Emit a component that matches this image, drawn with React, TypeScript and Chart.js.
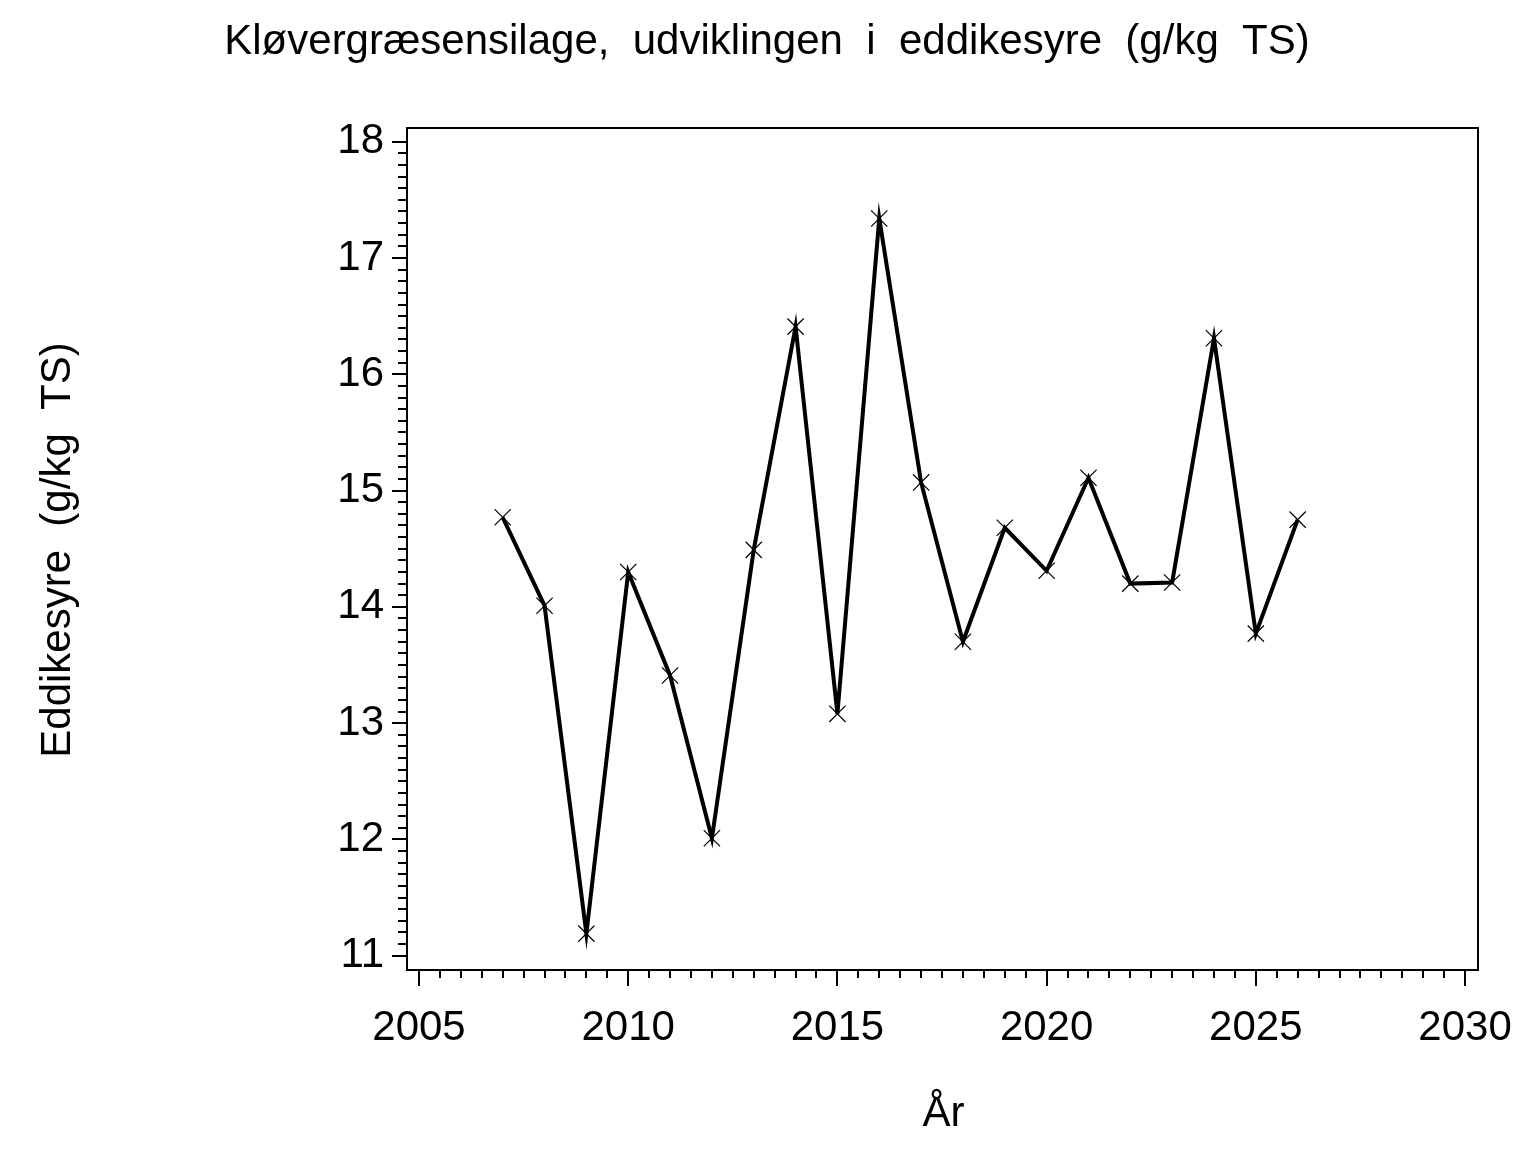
import { useEffect, useRef } from 'react';
import { Chart, registerables } from 'chart.js';

Chart.register(...registerables);

const years = [2007, 2008, 2009, 2010, 2011, 2012, 2013, 2014, 2015, 2016, 2017, 2018, 2019, 2020, 2021, 2022, 2023, 2024, 2025, 2026];
const eddikesyre = [14.77, 14.01, 11.19, 14.3, 13.41, 12.01, 14.49, 16.41, 13.08, 17.34, 15.07, 13.7, 14.68, 14.31, 15.11, 14.2, 14.21, 16.31, 13.77, 14.75];
const yTicks = [11, 12, 13, 14, 15, 16, 17, 18];
const xTicks = [2005, 2010, 2015, 2020, 2025, 2030];
const yMinorStep = 0.1;
const xMinorStep = 0.5;
const titleText = 'Kløvergræsensilage,  udviklingen  i  eddikesyre  (g/kg  TS)';
const yTitleText = 'Eddikesyre  (g/kg  TS)';
const xTitleText = 'År';

const FONT = "'Liberation Sans', Arial, Helvetica, sans-serif";

const decorPlugin = {
  id: 'decor',
  afterDraw(chart: any) {
    const { ctx, chartArea: a, scales } = chart;
    const x = scales.x;
    const y = scales.y;
    ctx.save();
    ctx.strokeStyle = '#000';
    ctx.lineWidth = 2;
    ctx.strokeRect(a.left, a.top, a.right - a.left, a.bottom - a.top);

    // minor ticks
    ctx.beginPath();
    for (let k = 0; k < yTicks.length - 1; k++) {
      for (let j = 1; j < 10; j++) {
        const v = yTicks[k] + j * yMinorStep;
        const py = Math.round(y.getPixelForValue(v));
        ctx.moveTo(a.left - 9, py);
        ctx.lineTo(a.left, py);
      }
    }
    for (let k = 0; k < xTicks.length - 1; k++) {
      for (let j = 1; j < 10; j++) {
        const v = xTicks[k] + j * xMinorStep;
        const px = Math.round(x.getPixelForValue(v));
        ctx.moveTo(px, a.bottom);
        ctx.lineTo(px, a.bottom + 8);
      }
    }
    ctx.stroke();

    // titles
    ctx.fillStyle = '#000';
    ctx.font = `42px ${FONT}`;
    ctx.textBaseline = 'alphabetic';
    ctx.textAlign = 'center';
    ctx.fillText(titleText, 767, 54);
    ctx.fillText(xTitleText, (a.left + a.right) / 2 + 1, 1126);
    ctx.save();
    ctx.translate(70, 550);
    ctx.rotate(-Math.PI / 2);
    ctx.fillText(yTitleText, 0, 0);
    ctx.restore();
    ctx.restore();
  },
};

export default function App() {
  const ref = useRef<HTMLCanvasElement | null>(null);

  useEffect(() => {
    if (!ref.current) return;
    const chart = new Chart(ref.current, {
      type: 'line',
      data: {
        datasets: [
          {
            data: years.map((yr, i) => ({ x: yr, y: eddikesyre[i] })),
            borderColor: '#000',
            borderWidth: 4,
            tension: 0,
            pointStyle: 'crossRot',
            pointRadius: 11.5,
            pointBorderWidth: 1.2,
            pointBorderColor: '#000',
            pointBackgroundColor: '#000',
            fill: false,
          },
        ],
      },
      options: {
        animation: false,
        responsive: false,
        devicePixelRatio: 1,
        layout: { padding: { top: 128, right: 58, left: 0, bottom: 0 } },
        plugins: {
          legend: { display: false },
          tooltip: { enabled: false },
          title: { display: false },
        },
        scales: {
          x: {
            type: 'linear',
            min: 2004.713,
            max: 2030.31,
            afterBuildTicks: (s: any) => {
              s.ticks = xTicks.map((v) => ({ value: v }));
            },
            afterFit: (s: any) => {
              s.height = 182;
            },
            ticks: {
              autoSkip: false,
              maxRotation: 0,
              minRotation: 0,
              padding: 17,
              color: '#000',
              font: { family: FONT, size: 42 },
              callback: (v: any) => String(v),
            },
            grid: {
              drawOnChartArea: false,
              drawTicks: true,
              tickLength: 16,
              lineWidth: 2,
              tickWidth: 2,
              color: '#000',
              tickColor: '#000',
            },
            border: { display: true, color: '#000', width: 2 },
          },
          y: {
            type: 'linear',
            min: 10.877,
            max: 18.118,
            afterBuildTicks: (s: any) => {
              s.ticks = yTicks.map((v) => ({ value: v }));
            },
            afterFit: (s: any) => {
              s.width = 407;
            },
            ticks: {
              autoSkip: false,
              padding: 8,
              color: '#000',
              font: { family: FONT, size: 42 },
              callback: (v: any) => String(v),
            },
            grid: {
              drawOnChartArea: false,
              drawTicks: true,
              tickLength: 15,
              lineWidth: 2,
              tickWidth: 2,
              color: '#000',
              tickColor: '#000',
            },
            border: { display: true, color: '#000', width: 2 },
          },
        },
      },
      plugins: [decorPlugin],
    });
    return () => chart.destroy();
  }, []);

  return (
    <div style={{ position: 'absolute', left: 0, top: 0, width: 1536, height: 1152, background: '#fff' }}>
      <canvas ref={ref} width={1536} height={1152} style={{ width: 1536, height: 1152, display: 'block' }} />
    </div>
  );
}
